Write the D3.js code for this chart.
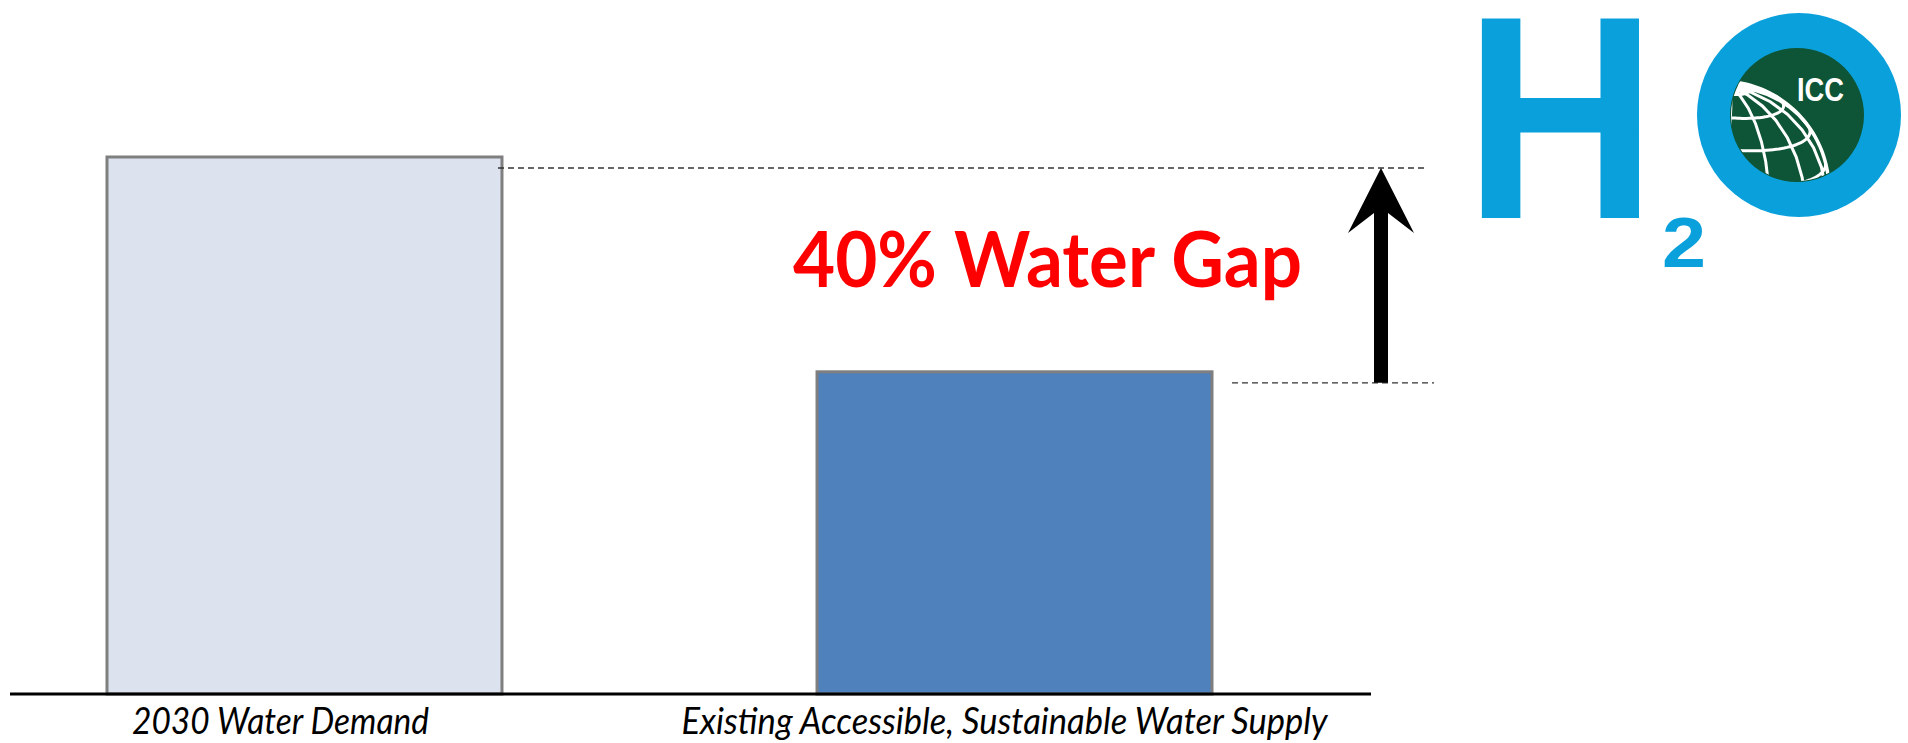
<!DOCTYPE html>
<html>
<head>
<meta charset="utf-8">
<script src="https://cdn.jsdelivr.net/npm/d3@7"></script>
<style>
  html, body { margin: 0; padding: 0; background: #fff; }
  svg { display: block; }
</style>
</head>
<body>
<svg id="chart" width="1908" height="743"></svg>
<script>
// Bar categories and values (share of 2030 demand, in %)
const categories = ["2030 Water Demand", "Existing Accessible, Sustainable Water Supply"];
const values = [100, 60];
const barFills = ["#dce3ee", "#4f81bd"];
const gapLabel = "40% Water Gap";

const svg = d3.select("#chart");
const baseY = 694;

const x = d3.scaleBand()
  .domain(categories)
  .range([107, 1212])
  .paddingInner(0.4437)
  .paddingOuter(0);

const y = d3.scaleLinear()
  .domain([0, 100])
  .range([baseY, 157]);

// Bars
svg.append("g").selectAll("rect")
  .data(categories)
  .join("rect")
  .attr("x", d => x(d))
  .attr("y", (d, i) => y(values[i]))
  .attr("width", x.bandwidth())
  .attr("height", (d, i) => baseY - y(values[i]))
  .attr("fill", (d, i) => barFills[i])
  .attr("stroke", "#7f7f7f")
  .attr("stroke-width", 3);

// Baseline
svg.append("line")
  .attr("x1", 10).attr("x2", 1371)
  .attr("y1", baseY).attr("y2", baseY)
  .attr("stroke", "#000").attr("stroke-width", 3);

// Category labels (narrow italic, set to a fixed run length)
const axis = svg.append("g")
  .attr("transform", `translate(0,${baseY})`)
  .call(d3.axisBottom(x).tickSize(0));
axis.select(".domain").remove();
const labelWidths = [297, 646];
axis.selectAll(".tick text")
  .style("font-family", "Lato, 'Open Sans', sans-serif")
  .style("font-style", "italic")
  .style("font-size", "36px")
  .attr("fill", "#000")
  .attr("dy", 0)
  .attr("y", 40)
  .attr("x", (d, i) => i === 0 ? -24 : -10)
  .attr("textLength", (d, i) => labelWidths[i])
  .attr("lengthAdjust", "spacingAndGlyphs");

// Dashed guide lines at the demand and supply levels
const guideOffset = 11;
const topGuideY = y(values[0]) + guideOffset;
const lowGuideY = y(values[1]) + guideOffset;
const arrowX = 1381;
const guideStyle = g => g
  .attr("stroke", "#333").attr("stroke-width", 1.3)
  .attr("stroke-dasharray", "6,4");
svg.append("line")
  .attr("x1", x(categories[0]) + x.bandwidth() - 4).attr("x2", 1424)
  .attr("y1", topGuideY).attr("y2", topGuideY)
  .call(guideStyle);
svg.append("line")
  .attr("x1", x(categories[1]) + x.bandwidth() + 20).attr("x2", 1434)
  .attr("y1", lowGuideY).attr("y2", lowGuideY)
  .call(guideStyle);

// Gap arrow
const headLen = 65, notch = 45, headHalf = 33, shaftHalf = 7;
const arrowPts = [
  [arrowX, topGuideY],
  [arrowX + headHalf, topGuideY + headLen],
  [arrowX + shaftHalf, topGuideY + notch],
  [arrowX + shaftHalf, lowGuideY],
  [arrowX - shaftHalf, lowGuideY],
  [arrowX - shaftHalf, topGuideY + notch],
  [arrowX - headHalf, topGuideY + headLen]
];
svg.append("path")
  .attr("d", d3.line()(arrowPts) + "Z")
  .attr("fill", "#000");

// Gap label
svg.append("text")
  .attr("x", 793).attr("y", 287)
  .attr("font-family", "Lato, 'Open Sans', sans-serif")
  .attr("font-weight", 700)
  .attr("font-size", 77)
  .attr("textLength", 509)
  .attr("lengthAdjust", "spacingAndGlyphs")
  .attr("fill", "#ff0000")
  .text(gapLabel);

// H2O logo
const logo = svg.append("g");
const logoBlue = "#0aa0dc";
logo.append("text")
  .attr("x", 1464).attr("y", 218)
  .attr("font-family", "'Liberation Sans', Arial, sans-serif")
  .attr("font-weight", 700)
  .attr("font-size", 290)
  .attr("textLength", 193)
  .attr("lengthAdjust", "spacingAndGlyphs")
  .attr("fill", logoBlue)
  .text("H");
logo.append("text")
  .attr("x", 1662).attr("y", 267)
  .attr("font-family", "'Liberation Sans', Arial, sans-serif")
  .attr("font-weight", 700)
  .attr("font-size", 70)
  .attr("textLength", 44)
  .attr("lengthAdjust", "spacingAndGlyphs")
  .attr("fill", logoBlue)
  .text("2");

const ringC = [1799, 115], ringR = 102;
const innerC = [1797, 115], innerR = 67;
logo.append("circle")
  .attr("cx", ringC[0]).attr("cy", ringC[1]).attr("r", ringR)
  .attr("fill", logoBlue);
logo.append("circle")
  .attr("cx", innerC[0]).attr("cy", innerC[1]).attr("r", innerR)
  .attr("fill", "#0d5536");

svg.append("defs").append("clipPath").attr("id", "globe-clip")
  .append("circle")
  .attr("cx", innerC[0]).attr("cy", innerC[1]).attr("r", innerR - 1);

// Globe with a coarse graticule, seen from just north of the equator
const projection = d3.geoOrthographic()
  .translate([1720, 190])
  .scale(109)
  .rotate([3, -18, -6])
  .clipAngle(90);
const geoPath = d3.geoPath(projection);
const globe = logo.append("g").attr("clip-path", "url(#globe-clip)");
globe.append("path")
  .datum(d3.geoGraticule().stepMinor([25, 20]).stepMajor([25, 20])())
  .attr("d", geoPath)
  .attr("fill", "none")
  .attr("stroke", "#fff")
  .attr("stroke-width", 3);
globe.append("path")
  .datum({ type: "Sphere" })
  .attr("d", geoPath)
  .attr("fill", "none")
  .attr("stroke", "#fff")
  .attr("stroke-width", 3.5);

logo.append("text")
  .attr("x", 1797).attr("y", 101)
  .attr("font-family", "'Liberation Sans', Arial, sans-serif")
  .attr("font-weight", 700)
  .attr("font-size", 34)
  .attr("textLength", 47)
  .attr("lengthAdjust", "spacingAndGlyphs")
  .attr("fill", "#fff")
  .text("ICC");
</script>
</body>
</html>
